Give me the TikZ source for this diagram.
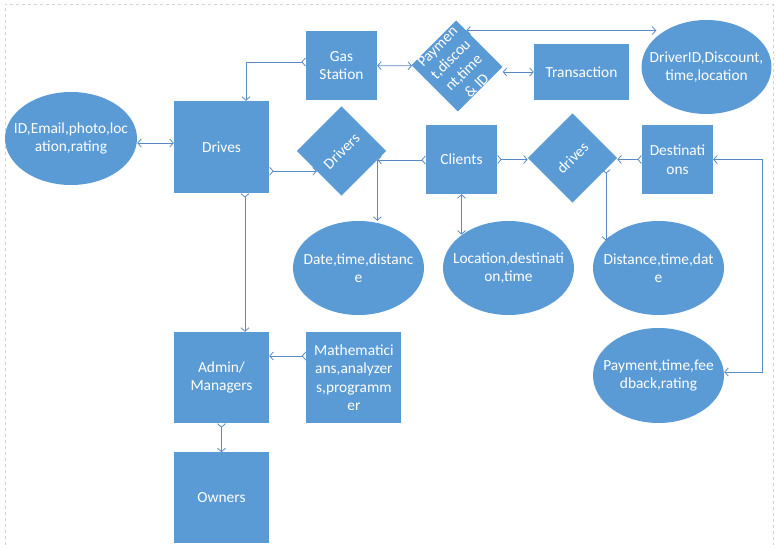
\documentclass[tikz,border=0pt]{standalone}
\usepackage{fontspec}
\setmainfont{Carlito}
\usetikzlibrary{arrows.meta,shapes.geometric,positioning,calc}
\definecolor{boxblue}{HTML}{5B9BD5}
\definecolor{linkblue}{HTML}{5A8AC6}
\tikzset{crow/.tip={Straight Barb[reversed,length=3.5pt,width=8pt]}}

\begin{document}
\begin{tikzpicture}[x=1pt,y=-1pt,
  >={Straight Barb[length=3.5pt,width=8pt]},
  font=\fontsize{15.4}{18.5}\selectfont,
  every node/.style={text=white,align=center},
  ent/.style={rectangle,fill=boxblue,inner sep=0pt,minimum width=95pt,minimum height=91pt},
  small/.style={ent,minimum width=71pt,minimum height=69pt},
  attr/.style={ellipse,fill=boxblue,inner xsep=-30pt,inner ysep=-10pt,minimum width=131pt,minimum height=94pt},
  rel/.style={rectangle,fill=boxblue,rotate=45,inner sep=0pt,minimum size=63pt},
  link/.style={draw=linkblue,line width=0.8pt}]
\useasboundingbox (0,0) rectangle (776,545);
\draw[gray!35,dashed,line width=0.5pt] (5,545) -- (5,4) -- (773,4) -- (773,545);

\node[small] (gas) at (341.5,65.5) {Gas\\Station};
\node[rel] (pay) at (457,66) {Paymen\\t,discou\\nt,time\\\& ID};
\node[ent,minimum height=56pt] (trans) at (581.5,72) {Transaction};
\node[attr,minimum width=130pt] (drvid) at (706.5,67) {DriverID,Discount,\\time,location};
\node[attr,minimum width=132pt,minimum height=93pt] (info) at (71,138.5) {ID,Email,photo,loc\\ation,rating};
\node[ent,minimum height=92pt] (drives) at (221.5,147) {Drives};
\node[rel] (drivers) at (341.5,151) {Drivers};
\node[small] (clients) at (461.5,159.5) {Clients};
\node[rel] (ride) at (572.5,158) {drives};
\node[small] (dest) at (677.5,159.5) {Destinati\\ons};
\node[attr] (date) at (358.5,268) {Date,time,distanc\\e};
\node[attr] (loc) at (508.5,268) {Location,destinati\\on,time};
\node[attr] (dist) at (658.5,268) {Distance,time,dat\\e};
\node[attr,minimum height=95pt] (feedback) at (658.5,375.5) {Payment,time,fee\\dback,rating};
\node[ent] (admin) at (221.5,377.5) {Admin/\\Managers};
\node[ent,right=37pt of admin] (staff) {Mathematici\\ans,analyzer\\s,programm\\er};
\node[ent,below=29pt of admin] (owners) {Owners};

\coordinate (pay-top) at ($(pay.north east)!0.22!(pay.south east)$);
\coordinate (dv-in) at ($(drivers.north west)!0.45!(drivers.south west)$);
\coordinate (dv-out) at ($(drivers.south east)!0.2!(drivers.south west)$);
\coordinate (rd-out) at ($(ride.south east)!0.25!(ride.south west)$);

\draw[link,crow->] ([yshift=3.5pt]gas.west) -| ([xshift=24.5pt]drives.north);
\draw[link,<->] (gas) -- (pay);
\draw[link,<->] (pay.south east |- trans.west) -- (trans.west);
\draw[link,<->] (pay-top) -- ([xshift=15pt]pay-top -| drvid.west);
\draw[link,<->] ([yshift=-4.5pt]info.east) -- ([yshift=-4.5pt]info.east -| drives.west);
\draw[link,crow->] (drives.east |- dv-in) -- (dv-in);
\draw[link,<-crow] (dv-out) -- (dv-out -| clients.west);
\draw[link,->] (dv-out) -- (dv-out |- date.north);
\draw[link,crow->] (clients.east) -- (clients.east -| ride.north west);
\draw[link,<->] (clients.south) -- (clients.south |- loc.north west);
\draw[link,crow->] (dest.west) -- (dest.west -| ride.south east);
\draw[link,<->] ([yshift=3.5pt]feedback.east) -- ++(38,0) |- (dest.east);
\draw[link,crow->] (rd-out) -- ([yshift=-6pt]rd-out |- dist.north west);
\draw[link,crow->] ([xshift=23.5pt]drives.south) -- ([xshift=23.5pt]admin.north);
\draw[link,crow->] ([yshift=21.5pt]staff.west) -- ([yshift=21.5pt]admin.east);
\draw[link,crow->] (admin) -- (owners);
\end{tikzpicture}
\end{document}
